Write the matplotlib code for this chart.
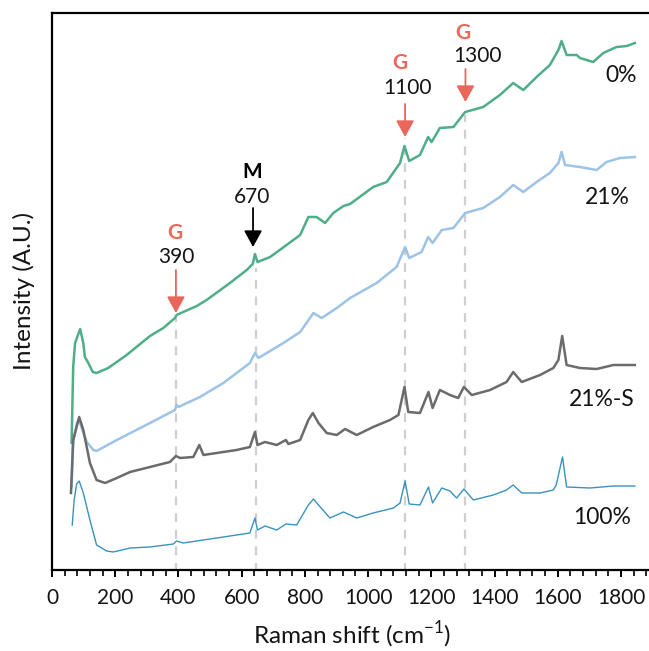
import matplotlib.pyplot as plt
from matplotlib.ticker import MultipleLocator

plt.rcParams['font.family'] = ['Lato', 'DejaVu Sans']
plt.rcParams['mathtext.fontset'] = 'custom'
plt.rcParams['mathtext.rm'] = 'Lato'

# Spectra (Raman shift in cm-1, intensity in a.u., stacked)
shift_0 = [62, 67, 73, 89, 99, 104, 115, 129, 141, 178, 236, 310, 352, 389, 394,
           415, 458, 489, 563, 616, 635, 642, 650, 690, 742, 785, 811, 837, 864,
           890, 922, 943, 1016, 1059, 1101, 1115, 1130, 1164, 1190, 1201, 1227,
           1270, 1307, 1364, 1417, 1459, 1491, 1533, 1575, 1602, 1612, 1628,
           1660, 1670, 1712, 1744, 1786, 1818, 1844]
int_0 = [129, 205, 229, 243, 229, 215, 209, 200, 199, 204, 217, 236, 244, 254, 257,
         260, 266, 272, 289, 302, 308, 318, 310, 315, 327, 337, 355, 355, 349,
         359, 366, 368, 385, 390, 409, 426, 411, 417, 435, 430, 444,
         445, 460, 465, 477, 489, 482, 495, 507, 522, 531, 517,
         517, 514, 510, 519, 525, 526, 529]

shift_21 = [62, 67, 80, 86, 94, 110, 131, 141, 205, 310, 389, 394, 400, 468, 542,
            626, 642, 653, 732, 785, 827, 853, 901, 943, 1027, 1090, 1117, 1130,
            1169, 1190, 1204, 1233, 1270, 1307, 1364, 1417, 1459, 1491, 1533,
            1575, 1602, 1612, 1623, 1670, 1723, 1754, 1797, 1844]
int_21 = [85, 130, 150, 152, 144, 130, 122, 121, 132, 149, 162, 167, 165, 175, 189,
          209, 219, 214, 229, 240, 259, 254, 264, 274, 289, 305, 325, 314,
          320, 335, 329, 342, 344, 359, 364, 375, 387, 380, 390,
          399, 409, 420, 407, 405, 402, 410, 414, 415]

shift_21s = [60, 67, 86, 99, 120, 141, 168, 205, 247, 310, 373, 392, 405, 447, 466,
             479, 521, 584, 626, 642, 650, 674, 711, 740, 748, 785, 811, 825, 843,
             869, 901, 927, 964, 1016, 1069, 1096, 1115, 1127, 1164, 1191, 1204,
             1227, 1259, 1285, 1303, 1328, 1386, 1438, 1459, 1486, 1544, 1586,
             1602, 1614, 1628, 1670, 1723, 1776, 1844]
int_21s = [79, 132, 155, 142, 109, 92, 89, 94, 100, 105, 110, 116, 114, 115, 127,
           117, 119, 122, 125, 140, 127, 130, 127, 132, 128, 132, 152, 159, 149,
           139, 137, 143, 137, 145, 152, 157, 185, 160, 159, 180, 164,
           182, 177, 174, 185, 177, 182, 190, 200, 190, 197, 204,
           212, 236, 207, 204, 203, 207, 207]

shift_100 = [64, 70, 78, 86, 99, 120, 141, 173, 194, 247, 310, 384, 394, 415, 521,
             626, 642, 650, 674, 711, 740, 774, 811, 827, 843, 879, 922, 964, 1016,
             1080, 1101, 1117, 1130, 1164, 1191, 1204, 1233, 1259, 1280, 1303,
             1333, 1396, 1438, 1459, 1486, 1544, 1586, 1595, 1615, 1628, 1702,
             1776, 1844]
int_100 = [47, 72, 88, 91, 79, 52, 27, 21, 20, 24, 25, 28, 31, 29, 34,
           39, 54, 42, 46, 42, 48, 47, 67, 73, 67, 54, 60, 54, 59,
           64, 69, 91, 68, 67, 85, 69, 84, 81, 74, 83,
           72, 77, 82, 87, 79, 79, 82, 87, 115, 85, 84,
           86, 86]

series_labels = ['0%', '21%', '21%-S', '100%']

# marked bands: drawn position, label, band name
band_pos = [392, 645, 1117, 1307]
band_top = [255, 304, 434, 457]
band_text = ['390', '670', '1100', '1300']
band_name = ['G', 'M', 'G', 'G']

red = '#E8665A'
grid_c = '#CFCFCF'
txt = '#141414'

fig = plt.figure(figsize=(6.49, 6.51), dpi=100)
ax = fig.add_axes([52/649, 1 - 570/651, 600.6/649, (570 - 12.5)/651])

# dashed guide lines
for xp, yt in zip(band_pos, band_top):
    ax.plot([xp, xp], [0, yt], color=grid_c, lw=1.6, ls=(0, (4, 3.5)), zorder=1)

ax.plot(shift_0, int_0, color='#4FAE88', lw=1.8, zorder=3)
ax.plot(shift_21, int_21, color='#9DC3E6', lw=1.8, zorder=3)
ax.plot(shift_21s, int_21s, color='#6B6B6B', lw=1.8, zorder=4)
ax.plot(shift_100, int_100, color='#3A92BF', lw=1.0, zorder=4)

# series names
lab_xy = [(1800, 497), (1756, 375), (1739, 172), (1739, 54)]
for (lx, ly), s in zip(lab_xy, series_labels):
    ax.text(lx, ly, s, fontsize=16.5, ha='center', va='center', color=txt)

# arrows and band labels
arrow_y = [(302, 259), (364, 325), (468, 435), (503, 470)]
arrow_x = [392, 636, 1117, 1308]
name_xy = [(388, 339), (633, 400), (1101, 509), (1300, 539)]
num_xy = [(392, 315), (633, 375), (1126, 484), (1345, 516)]
for i in range(4):
    c = 'black' if band_name[i] == 'M' else red
    ax.annotate('', xy=(arrow_x[i], arrow_y[i][1]), xytext=(arrow_x[i], arrow_y[i][0]),
                arrowprops=dict(arrowstyle='-|>,head_length=1.0,head_width=0.55',
                                mutation_scale=10, color=c, lw=1.3,
                                shrinkA=0, shrinkB=0), zorder=5)
    ax.text(name_xy[i][0], name_xy[i][1], band_name[i], fontsize=15, fontweight='bold',
            color=c, ha='center', va='center')
    ax.text(num_xy[i][0], num_xy[i][1], band_text[i], fontsize=15,
            color=txt, ha='center', va='center')

ax.set_xlim(0, 1900)
ax.set_ylim(2, 559.5)
ax.xaxis.set_major_locator(MultipleLocator(200))
ax.xaxis.set_minor_locator(MultipleLocator(40))
ax.set_xticks(range(0, 1801, 200))
ax.set_yticks([])
ax.tick_params(axis='x', which='major', direction='out', length=5, width=1.4,
               labelsize=15, pad=8, labelcolor=txt)
ax.tick_params(axis='x', which='minor', direction='out', length=4, width=1.2)
for sp in ['left', 'bottom', 'top']:
    ax.spines[sp].set_linewidth(1.6)
ax.spines['right'].set_visible(False)

ax.set_xlabel('Raman shift (cm$^{\\mathregular{-1}}$)', fontsize=17.5, labelpad=8,
              color=txt)
ax.set_ylabel('Intensity (A.U.)', fontsize=17.5, labelpad=12, color=txt)

fig.savefig('out.png', dpi=100)
